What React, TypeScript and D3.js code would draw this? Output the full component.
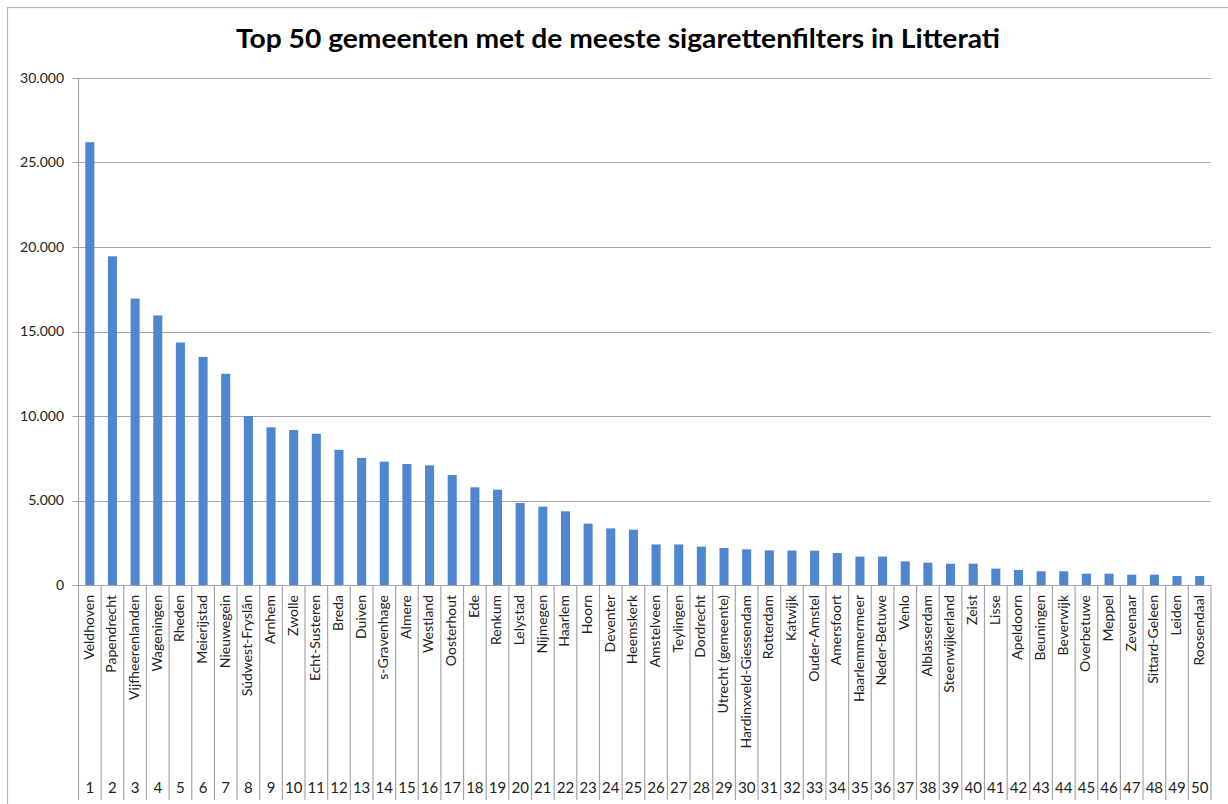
import React from 'react';
import * as d3 from 'd3';

const names = [
  'Veldhoven', 'Papendrecht', 'Vijfheerenlanden', 'Wageningen', 'Rheden',
  'Meierijstad', 'Nieuwegein', 'Súdwest-Fryslân', 'Arnhem', 'Zwolle',
  'Echt-Susteren', 'Breda', 'Duiven', 's-Gravenhage', 'Almere',
  'Westland', 'Oosterhout', 'Ede', 'Renkum', 'Lelystad',
  'Nijmegen', 'Haarlem', 'Hoorn', 'Deventer', 'Heemskerk',
  'Amstelveen', 'Teylingen', 'Dordrecht', 'Utrecht (gemeente)', 'Hardinxveld-Giessendam',
  'Rotterdam', 'Katwijk', 'Ouder-Amstel', 'Amersfoort', 'Haarlemmermeer',
  'Neder-Betuwe', 'Venlo', 'Alblasserdam', 'Steenwijkerland', 'Zeist',
  'Lisse', 'Apeldoorn', 'Beuningen', 'Beverwijk', 'Overbetuwe',
  'Meppel', 'Zevenaar', 'Sittard-Geleen', 'Leiden', 'Roosendaal',
];

const filters = [
  26200, 19450, 16950, 15950, 14350, 13500, 12500, 10000, 9330, 9170,
  8950, 8000, 7520, 7300, 7160, 7080, 6510, 5780, 5640, 4850,
  4640, 4360, 3630, 3350, 3270, 2400, 2400, 2270, 2190, 2110,
  2050, 2040, 2030, 1890, 1680, 1680, 1400, 1320, 1260, 1260,
  970, 890, 810, 810, 670, 670, 610, 610, 530, 530,
];

const yTicks = [0, 5000, 10000, 15000, 20000, 25000, 30000];
const title = 'Top 50 gemeenten met de meeste sigarettenfilters in Litterati';

const nl = d3.formatLocale({ decimal: ',', thousands: '.', grouping: [3], currency: ['€', ''] });
const fmt = nl.format(',d');

const W = 1228, H = 804;
const plot = { left: 78.5, right: 1211, top: 78, bottom: 585 };
const font = 'Lato, "Open Sans", sans-serif';
const gridColor = '#a6a6a6';

export default function App() {
  const ranks = names.map((_, i) => String(i + 1));
  const x = d3.scaleBand<string>().domain(ranks).range([plot.left, plot.right]).paddingInner(0.6).paddingOuter(0.3);
  const band = d3.scaleBand<string>().domain(ranks).range([plot.left, plot.right]);
  const y = d3.scaleLinear().domain([0, 30000]).range([plot.bottom, plot.top]);

  return (
    <div style={{ position: 'absolute', left: 0, top: 0 }}>
      <svg width={W} height={H} style={{ display: 'block', background: '#fff' }}>
        <rect x={7.5} y={7.5} width={1240} height={820} fill="#fff" stroke="#b4b4b4" strokeWidth={1.2} />

        <text x={618} y={48} textAnchor="middle" fontFamily={font} fontWeight={700} fontSize={26.5}
          textLength={764} lengthAdjust="spacingAndGlyphs" fill="#000">{title}</text>

        {/* grid + y axis */}
        {yTicks.map(t => (
          <g key={t}>
            <line x1={plot.left - 6} x2={plot.right} y1={Math.round(y(t)) + 0.5} y2={Math.round(y(t)) + 0.5}
              stroke={gridColor} strokeWidth={1.2} />
            <text x={64} y={y(t)} dy="0.35em" textAnchor="end" fontFamily={font} fontSize={14} fill="#222">{fmt(t)}</text>
          </g>
        ))}
        <line x1={plot.left} x2={plot.left} y1={plot.top} y2={plot.bottom} stroke={gridColor} strokeWidth={1.2} />

        {/* bars */}
        {filters.map((v, i) => (
          <rect key={i} x={x(ranks[i])} y={y(v)} width={x.bandwidth()} height={y(0) - y(v)} fill="#4f86d0" />
        ))}

        {/* category separators */}
        {[...ranks, 'end'].map((r, i) => {
          const xp = i < ranks.length ? band(r)! : plot.right;
          return <line key={'s' + i} x1={xp} x2={xp} y1={plot.bottom} y2={800} stroke={gridColor} strokeWidth={1.2} />;
        })}

        {/* category names */}
        {names.map((n, i) => {
          const cx = band(ranks[i])! + band.bandwidth() / 2 - 1;
          return (
            <text key={'n' + i} transform={`translate(${cx},595) rotate(-90)`} textAnchor="end" dy="0.35em"
              fontFamily={font} fontSize={14} fill="#222">{n}</text>
          );
        })}

        {/* rank labels */}
        {ranks.map((r, i) => (
          <text key={'r' + i} x={band(r)! + band.bandwidth() / 2} y={793} textAnchor="middle"
            fontFamily={font} fontSize={15} fill="#222">{r}</text>
        ))}
      </svg>
    </div>
  );
}
